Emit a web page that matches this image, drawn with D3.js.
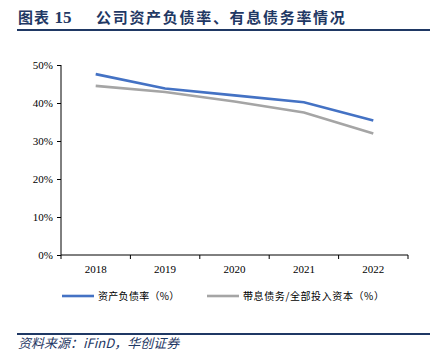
<!DOCTYPE html>
<html>
<head>
<meta charset="utf-8">
<script src="https://cdn.jsdelivr.net/npm/d3@7"></script>
<style>
  body { margin: 0; background: #fff; }
  svg { display: block; }
  .axis text { font-family: "Liberation Serif", "Times New Roman", serif; font-size: 11px; fill: #000; }
  .axis path, .axis line { stroke: #000; }
</style>
</head>
<body>
<svg width="443" height="353"></svg>
<script>
var years = ["2018", "2019", "2020", "2021", "2022"];
var debtRatio = [47.6, 43.8, 42.0, 40.2, 35.4];
var interestDebtRatio = [44.5, 42.9, 40.4, 37.5, 32.0];
var yTicks = [0, 10, 20, 30, 40, 50];
var seriesNames = ["资产负债率（%）", "带息债务/全部投入资本（%）"];
var seriesColors = ["#4472C4", "#A5A5A5"];

var svg = d3.select("svg"),
    margin = {top: 65, right: 35, bottom: 98, left: 61},
    width = 408 - margin.left,
    height = 255 - margin.top,
    g = svg.append("g").attr("transform", "translate(" + margin.left + "," + margin.top + ")");

var navy = "#1F3864";

// Title
var title = svg.append("text")
    .attr("x", 18)
    .attr("y", 23)
    .attr("fill", navy)
    .style("font-weight", "bold")
    .style("font-size", "15px");
title.append("tspan")
    .style("font-family", "'Noto Sans CJK SC', sans-serif")
    .style("letter-spacing", "1px")
    .text("图表 ");
title.append("tspan")
    .style("font-family", "'Liberation Serif', serif")
    .style("font-size", "17px")
    .text("15");
title.append("tspan")
    .attr("x", 96)
    .style("font-family", "'Noto Sans CJK SC', sans-serif")
    .style("letter-spacing", "1.7px")
    .text("公司资产负债率、有息债务率情况");

svg.append("line")
    .attr("x1", 17).attr("x2", 430)
    .attr("y1", 30).attr("y2", 30)
    .attr("stroke", navy).attr("stroke-width", 2);

var x = d3.scaleBand().domain(years).range([0, width]),
    y = d3.scaleLinear().domain([0, 50]).range([height, 0]);

// Axes
g.append("g")
    .attr("class", "axis axis--x")
    .attr("transform", "translate(0," + height + ")")
    .call(d3.axisBottom(x).tickSize(0).tickPadding(10));

g.select(".axis--x").selectAll(".sep")
    .data(d3.range(years.length + 1))
    .enter().append("line")
    .attr("class", "sep")
    .attr("x1", function(i) { return i * x.step(); })
    .attr("x2", function(i) { return i * x.step(); })
    .attr("y1", 0).attr("y2", 4)
    .attr("stroke", "#000");

g.append("g")
    .attr("class", "axis axis--y")
    .call(d3.axisLeft(y).tickValues(yTicks).tickSize(4).tickPadding(4)
        .tickFormat(function(d) { return d + "%"; }));

g.selectAll(".axis path").attr("d", function() {
    return d3.select(this.parentNode).classed("axis--x") ? "M0,0H" + width : "M0,0V" + height;
});

// Lines
var line = d3.line()
    .x(function(d, i) { return x(years[i]) + x.bandwidth() / 2; })
    .y(function(d) { return y(d); });

[debtRatio, interestDebtRatio].forEach(function(values, k) {
    g.append("path")
        .datum(values)
        .attr("fill", "none")
        .attr("stroke", seriesColors[k])
        .attr("stroke-width", 2.6)
        .attr("d", line);
});

// Legend
var legendX = [62, 207];
seriesNames.forEach(function(name, k) {
    svg.append("line")
        .attr("x1", legendX[k]).attr("x2", legendX[k] + 32)
        .attr("y1", 296).attr("y2", 296)
        .attr("stroke", seriesColors[k]).attr("stroke-width", 2.6);
    svg.append("text")
        .attr("x", legendX[k] + 36)
        .attr("y", 299.5)
        .style("font-family", "'Noto Sans CJK SC', sans-serif")
        .style("font-size", "10px")
        .style("letter-spacing", k === 0 ? "0.3px" : "0.6px")
        .attr("fill", "#000")
        .text(name);
});

// Source
svg.append("line")
    .attr("x1", 17).attr("x2", 430)
    .attr("y1", 334).attr("y2", 334)
    .attr("stroke", navy).attr("stroke-width", 2);

svg.append("text")
    .attr("x", 18)
    .attr("y", 348)
    .attr("fill", navy)
    .style("font-family", "'Noto Sans CJK SC', sans-serif")
    .style("font-style", "italic")
    .style("font-size", "13px")
    .text("资料来源：iFinD，华创证券");
</script>
</body>
</html>
